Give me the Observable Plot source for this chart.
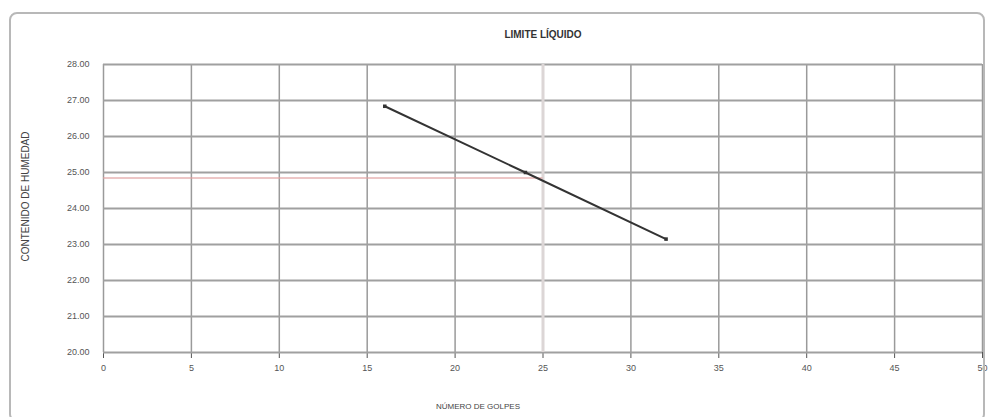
<!DOCTYPE html>
<html>
<head>
<meta charset="utf-8">
<script src="https://cdn.jsdelivr.net/npm/d3@7"></script>
<script src="https://cdn.jsdelivr.net/npm/@observablehq/plot@0.6"></script>
<style>
  html, body { margin: 0; padding: 0; background: #fff; }
  #wrap { position: relative; width: 992px; height: 417px; overflow: hidden; }
  #frame { position: absolute; left: 9px; top: 12px; width: 976px; height: 410px;
           border: 2px solid #b8b8b8; border-radius: 8px; box-sizing: border-box; pointer-events: none; }
</style>
</head>
<body>
<div id="wrap"><div id="frame"></div></div>
<script>
// Data
const golpes = [16, 24, 32];                 // número de golpes
const humedad = [26.84, 25.0, 23.15];        // contenido de humedad (%)
const limiteGolpes = 25;                     // 25 golpes
const limiteLiquido = 24.85;                 // límite líquido leído
const xTicks = [0, 5, 10, 15, 20, 25, 30, 35, 40, 45, 50];
const yTicks = [20, 21, 22, 23, 24, 25, 26, 27, 28];
const titulo = "LIMITE LÍQUIDO";
const xLabel = "NÚMERO DE GOLPES";
const yLabel = "CONTENIDO DE HUMEDAD";

const pts = golpes.map((g, i) => ({g, h: humedad[i]}));

const chart = Plot.plot({
  width: 992,
  height: 417,
  marginLeft: 103,
  marginRight: 10,
  marginTop: 64,
  marginBottom: 65,
  style: {fontFamily: "Liberation Sans, Arial, sans-serif", fontSize: "9px", color: "#555", background: "transparent"},
  x: {domain: [0, 50], ticks: xTicks, label: null, tickSize: 6, tickPadding: 6},
  y: {domain: [20, 28], ticks: yTicks, tickFormat: d => d.toFixed(2), label: null, tickSize: 0, tickPadding: 14},
  marks: [
    Plot.gridX(xTicks, {stroke: "#9a9a9a", strokeOpacity: 1, strokeWidth: 1.5}),
    Plot.gridY(yTicks, {stroke: "#a0a0a0", strokeOpacity: 1, strokeWidth: 1.8}),
    Plot.ruleX([limiteGolpes], {stroke: "#dcd6d6", strokeWidth: 3}),
    Plot.ruleY([limiteLiquido], {x1: 0, x2: limiteGolpes, stroke: "#e2a0a0", strokeWidth: 1.5, strokeOpacity: 0.8}),
    Plot.line(pts, {x: "g", y: "h", stroke: "#333", strokeWidth: 2}),
    Plot.dot(pts, {x: "g", y: "h", symbol: "square", r: 2, fill: "#333"}),
    Plot.text([titulo], {frameAnchor: "top", dy: -34, fontWeight: "bold", fontSize: 10, fill: "#333"}),
    Plot.text([xLabel], {frameAnchor: "bottom", dy: 56, dx: -65, fontSize: 8, fill: "#444"}),
    Plot.text([yLabel], {frameAnchor: "left", textAnchor: "middle", dx: -78, dy: -12, rotate: -90, fontSize: 10, fill: "#444"})
  ]
});
document.getElementById("wrap").prepend(chart);
chart.style.position = "absolute";
chart.style.left = "0";
chart.style.top = "0";
</script>
</body>
</html>
